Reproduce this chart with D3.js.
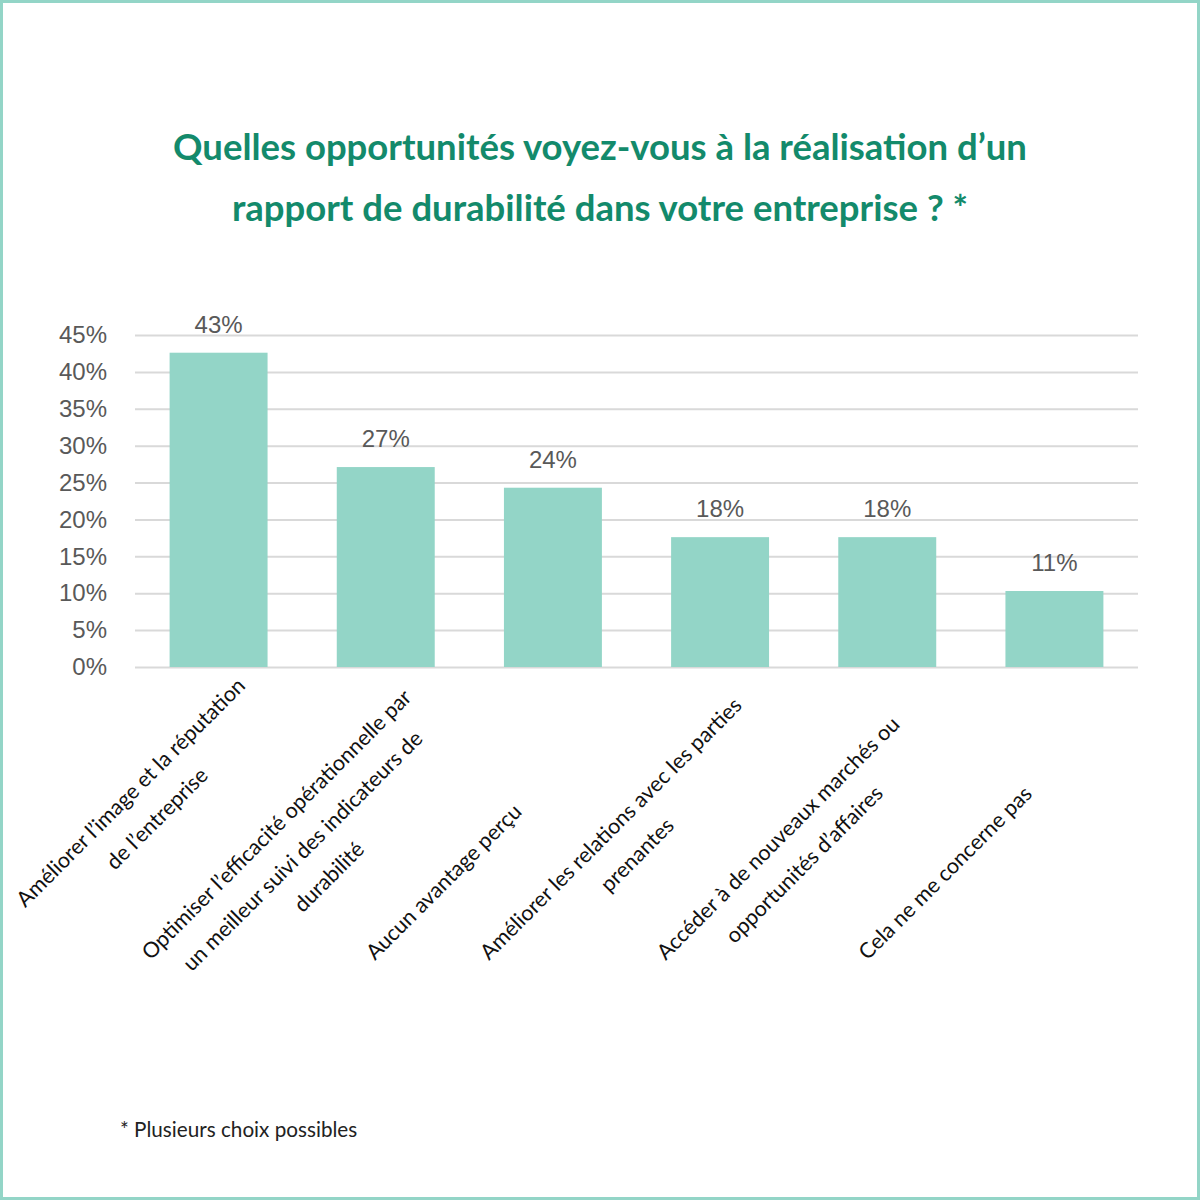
<!DOCTYPE html>
<html><head><meta charset="utf-8">
<script src="https://cdn.jsdelivr.net/npm/d3@7"></script>
<style>html,body{margin:0;padding:0;background:#fff;}svg{display:block;}</style>
</head><body>
<script>
const categories = [
  "Améliorer l’image et la réputation de l’entreprise",
  "Optimiser l’efficacité opérationnelle par un meilleur suivi des indicateurs de durabilité",
  "Aucun avantage perçu",
  "Améliorer les relations avec les parties prenantes",
  "Accéder à de nouveaux marchés ou opportunités d’affaires",
  "Cela ne me concerne pas"
];
const categoryLines = [
  ["Améliorer l’image et la réputation", "de l’entreprise"],
  ["Optimiser l’efficacité opérationnelle par", "un meilleur suivi des indicateurs de", "durabilité"],
  ["Aucun avantage perçu"],
  ["Améliorer les relations avec les parties", "prenantes"],
  ["Accéder à de nouveaux marchés ou", "opportunités d’affaires"],
  ["Cela ne me concerne pas"]
];
const values = [42.6, 27.1, 24.3, 17.6, 17.6, 10.3];
const valueLabels = ["43%", "27%", "24%", "18%", "18%", "11%"];
const yTicks = [0, 5, 10, 15, 20, 25, 30, 35, 40, 45];
const titleLines = ["Quelles opportunités voyez-vous à la réalisation d’un", "rapport de durabilité dans votre entreprise ? *"];
const footnote = "* Plusieurs choix possibles";

const W = 1200, H = 1200;
const svg = d3.select("body").append("svg").attr("width", W).attr("height", H);

svg.append("rect").attr("x", 1.5).attr("y", 1.5).attr("width", W - 3).attr("height", H - 3)
  .attr("fill", "#fff").attr("stroke", "#93d5c7").attr("stroke-width", 3);

// Title
svg.append("g").selectAll("text").data(titleLines).join("text")
  .attr("x", 600).attr("y", (d, i) => 160 + i * 61)
  .attr("text-anchor", "middle")
  .attr("font-family", "Lato, sans-serif").attr("font-weight", 700)
  .attr("font-size", 36.5).attr("fill", "#138a6b")
  .text(d => d);

const x = d3.scaleBand().domain(categories).range([135, 1138]).paddingInner(0.414).paddingOuter(0.207);
const y = d3.scaleLinear().domain([0, 45]).range([667, 335]);

// gridlines + y tick labels
const yAxis = d3.axisLeft(y).tickValues(yTicks).tickFormat(d => d + "%").tickSize(-(1138 - 135)).tickPadding(28);
const gy = svg.append("g").attr("transform", "translate(135,0)").call(yAxis);
gy.select(".domain").remove();
gy.selectAll(".tick line").attr("stroke", "#d9d9d9").attr("stroke-width", 2);
gy.selectAll(".tick text").attr("font-family", "'Liberation Sans', Arial, sans-serif")
  .attr("font-size", 24).attr("fill", "#595959");

// bars
svg.append("g").selectAll("rect").data(values).join("rect")
  .attr("x", (d, i) => x(categories[i]))
  .attr("y", d => y(d))
  .attr("width", x.bandwidth())
  .attr("height", d => y(0) - y(d))
  .attr("fill", "#93d5c7");

// value labels
svg.append("g").selectAll("text").data(values).join("text")
  .attr("x", (d, i) => x(categories[i]) + x.bandwidth() / 2)
  .attr("y", d => y(d) - 20)
  .attr("text-anchor", "middle")
  .attr("font-family", "'Liberation Sans', Arial, sans-serif")
  .attr("font-size", 24).attr("fill", "#595959")
  .text((d, i) => valueLabels[i]);

// category labels (rotated -45°, centered lines)
const lh = 37, c45 = Math.SQRT1_2;
categoryLines.forEach((lines, i) => {
  const tick = x(categories[i]) + x.bandwidth() / 2;
  const g = svg.append("g");
  const texts = g.selectAll("text").data(lines).join("text")
    .attr("x", 0).attr("y", (d, k) => k * lh)
    .attr("text-anchor", "middle")
    .attr("font-family", "Lato, sans-serif").attr("font-size", 21.5).attr("fill", "#111")
    .text(d => d);
  const L1 = texts.node().getComputedTextLength();
  const half = c45 * L1 / 2;
  let cx = tick - 104;
  let cy = 961 - half;
  if (cx - half < 22) {
    // not enough room on the left: pin the end of the first line to the tick
    cx = tick + 28 - half;
    cy = y(0) + 20 + half;
  }
  g.attr("transform", `translate(${cx},${cy}) rotate(-45)`);
});

// footnote
svg.append("text").attr("x", 120).attr("y", 1137)
  .attr("font-family", "Lato, sans-serif").attr("font-size", 20.7).attr("fill", "#222")
  .text(footnote);
</script>
</body></html>
